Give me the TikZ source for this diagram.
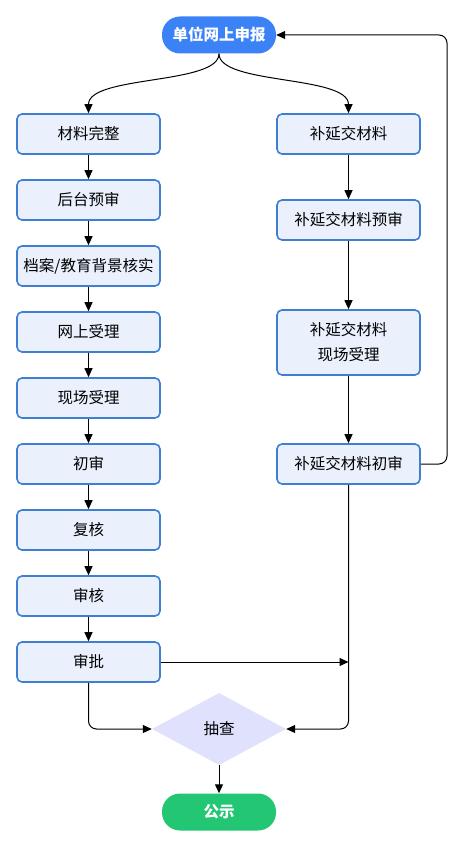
\documentclass[tikz,border=0pt]{standalone}
\usepackage{fontspec}
\setmainfont{Noto Sans CJK SC}
\usepackage{tikz}
\usetikzlibrary{arrows.meta,shapes.geometric}
\definecolor{pillblue}{HTML}{3B82F6}
\definecolor{boxline}{HTML}{3F7FD3}
\definecolor{boxfill}{HTML}{EAF1FD}
\definecolor{checkfill}{HTML}{E0E1FC}
\definecolor{pillgreen}{HTML}{22C673}

\tikzset{
	stepbox/.style={draw=boxline, fill=boxfill, line width=1.6pt, rounded corners=5pt,
		minimum width=143pt, minimum height=40pt, align=center,
		font=\fontsize{15.5}{25}\selectfont},
	pill/.style={rounded corners=18pt, minimum width=114pt, minimum height=37pt,
		text=white, font=\fontsize{15.5}{18}\selectfont\bfseries},
	arr/.style={-{Triangle[length=9pt,width=8pt]}, line width=1pt},
	link/.style={line width=1pt, rounded corners=8pt}
}

\begin{document}
\begin{tikzpicture}[x=1pt,y=-1pt]
	\useasboundingbox (0,0) rectangle (467,848);
	\node[pill, fill=pillblue] (apply) at (219,35) {单位网上申报};
	\node[stepbox] (l1) at (88.5,134) {材料完整};
	\node[stepbox] (l2) at (88.5,200) {后台预审};
	\node[stepbox] (l3) at (88.5,266) {档案/教育背景核实};
	\node[stepbox] (l4) at (88.5,332) {网上受理};
	\node[stepbox] (l5) at (88.5,398) {现场受理};
	\node[stepbox] (l6) at (88.5,464) {初审};
	\node[stepbox] (l7) at (88.5,530) {复核};
	\node[stepbox] (l8) at (88.5,596) {审核};
	\node[stepbox] (l9) at (88.5,662) {审批};
	\node[stepbox] (r1) at (348.5,134) {补延交材料};
	\node[stepbox] (r2) at (348.5,220) {补延交材料预审};
	\node[stepbox, minimum height=65pt] (r3) at (348.5,342.5) {补延交材料\\现场受理};
	\node[stepbox] (r4) at (348.5,464) {补延交材料初审};
	\node[diamond, fill=checkfill, aspect=1.86, inner sep=0pt, minimum width=134pt,
		minimum height=72pt, font=\fontsize{15.5}{18}\selectfont] (check) at (219,729) {抽查};
	\node[pill, fill=pillgreen] (publish) at (219,812) {公示};
	\coordinate (join) at (348.5,662);

	\draw[arr] (apply.south) .. controls (219,85) and (88.5,75) .. (l1.north);
	\draw[arr] (apply.south) .. controls (219,85) and (348.5,75) .. (r1.north);
	\foreach \a/\b in {l1/l2,l2/l3,l3/l4,l4/l5,l5/l6,l6/l7,l7/l8,l8/l9,r1/r2,r2/r3,r3/r4,check/publish}
		\draw[arr] (\a) -- (\b);
	\draw[arr, link] (r4.east) -- (447,464) -- (447,35) -- (apply.east);
	\draw[arr] (l9.east) -- (join);
	\draw[arr, link] (r4.south) -- (348.5,729) -- (check.east);
	\draw[arr, link] (l9.south) -- (88.5,729) -- (check.west);
\end{tikzpicture}
\end{document}
